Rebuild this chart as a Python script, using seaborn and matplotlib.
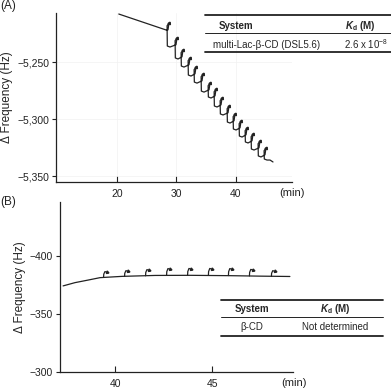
import numpy as np
import pandas as pd
import matplotlib.pyplot as plt
import matplotlib.lines as mlines
from matplotlib.ticker import FuncFormatter
import seaborn as sns

sns.set_theme(style='white')
plt.rcParams['font.family'] = ['Liberation Sans', 'DejaVu Sans']
plt.rcParams['mathtext.fontset'] = 'custom'
plt.rcParams['mathtext.rm'] = 'Liberation Sans'
plt.rcParams['mathtext.it'] = 'Liberation Sans:italic'
plt.rcParams['mathtext.bf'] = 'Liberation Sans:bold'
plt.rcParams['mathtext.bfit'] = 'Liberation Sans:italic:bold'

# Panel A: multi-Lac-beta-CD trace (time in min, frequency shift in Hz)
a_start_t = [20.3, 28.25]
a_start_f = [-5207.6, -5221.6]
a_tip_t = [28.75, 30.10, 31.11, 32.29, 33.30, 34.48, 35.66, 36.67,
           37.68, 38.86, 39.87, 40.88, 41.89, 42.90, 44.07, 45.08]
a_tip_f = [-5215.5, -5228.6, -5239.2, -5246.2, -5254.1, -5260.3, -5268.2, -5273.5,
           -5281.4, -5288.4, -5295.4, -5301.6, -5307.7, -5313.0, -5319.2, -5325.3]
a_bottom_f = [-5235.7, -5246.2, -5253.3, -5261.2, -5267.4, -5275.3, -5280.5, -5288.4,
              -5295.4, -5302.5, -5308.6, -5314.8, -5320.0, -5326.2, -5332.3, -5335.0]
a_end_t = [45.76, 46.26]
a_end_f = [-5335.9, -5337.6]

# Panel B: beta-CD trace
b_t = [37.33, 37.94, 38.61, 39.23, 40.36, 42.06, 43.85, 45.91, 47.45, 48.99]
b_f = [-374.1, -376.9, -379.1, -381.2, -382.3, -383.1, -383.2, -382.9, -382.5, -382.2]
b_hook_t = [39.59, 40.67, 41.75, 42.83, 43.91, 44.98, 46.01, 47.09, 48.22]
b_hook_tip = [-386.4, -387.2, -388.1, -389.0, -389.1, -389.1, -389.0, -388.3, -387.2]
b_hook_base = [-381.5, -382.3, -382.8, -383.1, -383.2, -383.2, -383.0, -382.7, -382.3]

W, H = 391, 389
fig = plt.figure(figsize=(W / 100, H / 100), dpi=100)

def fx(x):
    return x / W

def fy(y):
    return 1 - y / H

axA = fig.add_axes([fx(56), fy(182), fx(292) - fx(56), fy(13) - fy(182)])
axB = fig.add_axes([fx(60), fy(372), fx(293) - fx(60), fy(202) - fy(372)])

# build trace A from the read points (rise, tip, curl back, drop, curve right)
ta, fa = list(a_start_t), list(a_start_f)
for i in range(len(a_tip_t)):
    t, f, b = a_tip_t[i], a_tip_f[i], a_bottom_f[i]
    ta += [t - 0.17, t, t - 0.32, t - 0.28, t + 0.17]
    fa += [f - 6.0, f, f - 2.4, b, b - 0.9]
ta += a_end_t
fa += a_end_f
dfa = pd.DataFrame({'t': ta, 'f': fa})

line_kw = dict(color='#222222', linewidth=0.9)
sns.lineplot(data=dfa, x='t', y='f', sort=False, estimator=None, ax=axA, **line_kw)
axA.plot(a_tip_t, a_tip_f, ls='none', marker=(3, 0, -25), ms=2.2, color='#222222')

dfb = pd.DataFrame({'t': b_t, 'f': b_f})
sns.lineplot(data=dfb, x='t', y='f', sort=False, estimator=None, ax=axB, **line_kw)
for t, tip, base in zip(b_hook_t, b_hook_tip, b_hook_base):
    axB.plot([t - 0.18, t - 0.17, t - 0.11, t],
             [base, base + 0.55 * (tip - base), tip, tip + 0.6], **line_kw)
axB.plot(b_hook_t, [v + 0.6 for v in b_hook_tip], ls='none', marker=(3, 0, -110),
         ms=2.2, color='#222222')

comma = FuncFormatter(lambda v, p: f"{v:,.0f}".replace('-', '\u2212'))

axA.set_xlim(9.73, 49.46)
axA.set_ylim(-5355.2, -5206.7)
axA.set_xticks([20, 30, 40])
axA.set_yticks([-5250, -5300, -5350])
axA.yaxis.set_major_formatter(comma)
axA.grid(True, color='#f1f1f1', linewidth=0.5)

axB.set_xlim(37.17, 49.15)
axB.set_ylim(-300, -446.3)
axB.set_xticks([40, 45])
axB.set_yticks([-400, -350, -300])
axB.yaxis.set_major_formatter(comma)

for ax in (axA, axB):
    for s in ('top', 'right'):
        ax.spines[s].set_visible(False)
    for s in ('left', 'bottom'):
        ax.spines[s].set_color('#222222')
        ax.spines[s].set_linewidth(0.9)
    ax.set_xlabel('')
    ax.set_ylabel('\u0394 Frequency (Hz)', fontsize=8.5, color='#222222', labelpad=3)
    ax.tick_params(axis='y', direction='out', length=3, width=0.8, pad=2,
                   labelsize=7.5, colors='#222222', left=True)
    ax.tick_params(axis='x', direction='in', length=4, width=0.8, pad=5,
                   labelsize=7.5, colors='#222222', bottom=True)
    ax.set_facecolor('none')

fig.text(fx(279), fy(193), '(min)', fontsize=8, va='center', ha='left', color='#222222')
fig.text(fx(281), fy(383), '(min)', fontsize=8, va='center', ha='left', color='#222222')
fig.text(fx(0), fy(6), '(A)', fontsize=8.5, va='center', ha='left', color='#222222')
fig.text(fx(0), fy(202), '(B)', fontsize=8.5, va='center', ha='left', color='#222222')

def hline(x0, x1, y, lw):
    fig.add_artist(mlines.Line2D([fx(x0), fx(x1)], [fy(y), fy(y)], color='#222222',
                                 linewidth=lw, transform=fig.transFigure))

kd = r'$\mathbfit{K}_{\mathbf{d}}$ (M)'
# table A
hline(205, 391, 15, 1.3)
hline(205, 391, 33.3, 0.7)
hline(205, 391, 51.7, 1.3)
fig.text(fx(219), fy(26), 'System', fontsize=7, fontweight='bold', va='center', ha='left')
fig.text(fx(345), fy(26), kd, fontsize=7, fontweight='bold', va='center', ha='left')
fig.text(fx(213), fy(44.5), 'multi-Lac-\u03b2-CD (DSL5.6)', fontsize=7, va='center', ha='left')
fig.text(fx(344), fy(44.5), r'2.6 x 10$^{-8}$', fontsize=7, va='center', ha='left')

# table B
hline(221, 383, 299.7, 1.3)
hline(221, 383, 316.7, 0.7)
hline(221, 383, 335.7, 1.3)
fig.text(fx(252), fy(309), 'System', fontsize=7, fontweight='bold', va='center', ha='center')
fig.text(fx(335), fy(309), kd, fontsize=7, fontweight='bold', va='center', ha='center')
fig.text(fx(252), fy(327), '\u03b2-CD', fontsize=7, va='center', ha='center')
fig.text(fx(335), fy(327), 'Not determined', fontsize=7, va='center', ha='center')

fig.savefig('out.png', dpi=100)
